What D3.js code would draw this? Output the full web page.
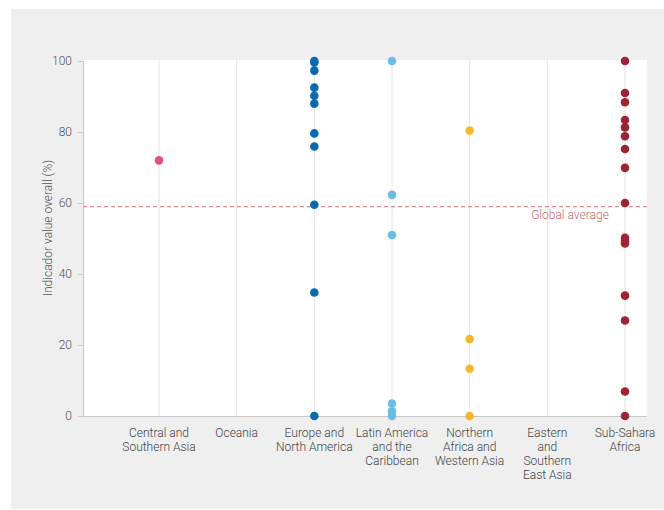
<!DOCTYPE html>
<html>
<head>
<meta charset="utf-8">
<script src="https://cdn.jsdelivr.net/npm/d3@7"></script>
<style>
  html, body { margin: 0; padding: 0; background: #ffffff; }
  svg { display: block; font-family: Roboto, "Noto Sans", sans-serif; }
</style>
</head>
<body>
<svg id="chart" width="664" height="510"></svg>
<script>
// Regions shown along the horizontal axis
const regions = [
  "Central and Southern Asia",
  "Oceania",
  "Europe and North America",
  "Latin America and the Caribbean",
  "Northern Africa and Western Asia",
  "Eastern and Southern East Asia",
  "Sub-Sahara Africa"
];
// Multi-line labels for each region
const regionLabels = [
  ["Central and", "Southern Asia"],
  ["Oceania"],
  ["Europe and", "North America"],
  ["Latin America", "and the", "Caribbean"],
  ["Northern", "Africa and", "Western Asia"],
  ["Eastern", "and", "Southern", "East Asia"],
  ["Sub-Sahara", "Africa"]
];
// Country indicator values (%) per region
const centralSouthernAsia = [72];
const oceania = [];
const europeNorthAmerica = [100, 99.6, 97.3, 92.5, 90.2, 88, 79.6, 75.9, 59.5, 34.8, 0];
const latinAmericaCaribbean = [100, 62.3, 51, 3.5, 1.3, 0];
const northernAfricaWesternAsia = [80.4, 21.7, 13.3, 0];
const easternSouthEastAsia = [];
const subSaharaAfrica = [100, 91, 88.4, 83.4, 81.3, 78.8, 75.2, 69.9, 60, 50.2, 49.3, 48.6, 33.9, 26.9, 6.9, 0];
const regionValues = [
  centralSouthernAsia, oceania, europeNorthAmerica, latinAmericaCaribbean,
  northernAfricaWesternAsia, easternSouthEastAsia, subSaharaAfrica
];
const regionColors = ["#e0508a", "#888888", "#0a6aad", "#6cbde4", "#f4b927", "#888888", "#9a2535"];
const yTicks = [0, 20, 40, 60, 80, 100];
const globalAverage = 59;

const svg = d3.select("#chart");
const W = 664, H = 510;

// grey panel
svg.append("rect").attr("x", 11).attr("y", 9).attr("width", W - 11).attr("height", H - 10)
  .attr("fill", "#efefef");

const plot = { left: 83, right: 647, top: 60, bottom: 416 };

// white plotting area
svg.append("rect").attr("x", plot.left).attr("y", plot.top)
  .attr("width", plot.right - plot.left).attr("height", plot.bottom - plot.top)
  .attr("fill", "#ffffff");

const x = d3.scalePoint().domain(regions).range([159, 625]);
const y = d3.scaleLinear().domain([0, 100]).range([plot.bottom, plot.top + 1]);

// vertical grid lines at each region
svg.append("g").selectAll("line").data(regions).join("line")
  .attr("x1", d => x(d)).attr("x2", d => x(d))
  .attr("y1", plot.top).attr("y2", plot.bottom)
  .attr("stroke", "#e4e4e4").attr("stroke-width", 1);

// y axis
const yAxis = svg.append("g").attr("transform", `translate(${plot.left},0)`)
  .call(d3.axisLeft(y).tickValues(yTicks).tickSize(5).tickPadding(6));
yAxis.select(".domain").attr("stroke", "#c8c8c8");
yAxis.selectAll(".tick line").attr("stroke", "#c8c8c8");
yAxis.selectAll(".tick text").attr("fill", "#555").style("font-size", "12px")
  .style("font-family", "Roboto, sans-serif").style("font-weight", 300);

// x axis baseline
svg.append("line").attr("x1", plot.left).attr("x2", plot.right)
  .attr("y1", plot.bottom + 0.5).attr("y2", plot.bottom + 0.5)
  .attr("stroke", "#c8c8c8");

// y axis title
svg.append("text")
  .attr("transform", `translate(52,${(plot.top + plot.bottom) / 2 - 10}) rotate(-90)`)
  .attr("text-anchor", "middle")
  .attr("fill", "#555").style("font-size", "12px").style("font-weight", 300)
  .text("Indicador value overall (%)");

// global average line
svg.append("line").attr("x1", plot.left).attr("x2", plot.right + 3)
  .attr("y1", y(globalAverage)).attr("y2", y(globalAverage))
  .attr("stroke", "#d98a90").attr("stroke-width", 1.2).attr("stroke-dasharray", "4,3");
svg.append("text").attr("x", 570).attr("y", y(globalAverage) + 12)
  .attr("text-anchor", "middle").attr("fill", "#c46870")
  .style("font-size", "12px").style("font-weight", 300)
  .text("Global average");

// points
regions.forEach((r, i) => {
  svg.append("g").selectAll("circle").data(regionValues[i]).join("circle")
    .attr("cx", x(r)).attr("cy", d => y(d)).attr("r", 4.3)
    .attr("fill", regionColors[i]);
});

// region labels
const lbl = svg.append("g");
regions.forEach((r, i) => {
  const t = lbl.append("text").attr("x", x(r)).attr("y", 437)
    .attr("text-anchor", "middle").attr("fill", "#444")
    .style("font-size", "12px").style("font-weight", 300);
  regionLabels[i].forEach((line, j) => {
    t.append("tspan").attr("x", x(r)).attr("dy", j === 0 ? 0 : 14).text(line);
  });
});
</script>
</body>
</html>
